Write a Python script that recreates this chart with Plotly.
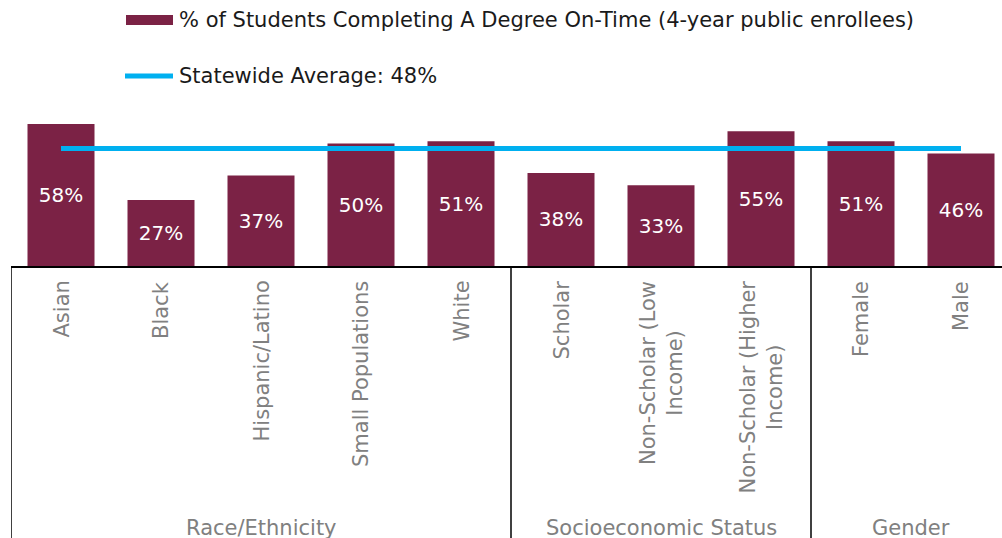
import plotly.graph_objects as go

# --- data ---------------------------------------------------------------
categories = ["Asian", "Black", "Hispanic/Latino", "Small Populations", "White",
              "Scholar", "Non-Scholar (Low Income)", "Non-Scholar (Higher Income)",
              "Female", "Male"]
tick_labels = ["Asian", "Black", "Hispanic/Latino", "Small Populations", "White",
               "Scholar", "Non-Scholar (Low<br>Income)", "Non-Scholar (Higher<br>Income)",
               "Female", "Male"]
completion_pct = [58, 27, 37, 50, 51, 38, 33, 55, 51, 46]
statewide_avg = 48
groups = ["Race/Ethnicity", "Socioeconomic Status", "Gender"]
group_sizes = [5, 3, 2]

bar_name = "% of Students Completing A Degree On-Time (4-year public enrollees)"
line_name = f"Statewide Average: {statewide_avg}%"

# --- styling ------------------------------------------------------------
MAROON = "#7B2245"
BLUE = "#00B0F0"
GREY = "#808080"
FONT = "DejaVu Sans"
FS = 21

W, H = 1002, 538
ML, MR, MT, MB = 11, 0, 100, 272
PW, PH = W - ML - MR, H - MT - MB


def px_x(px):
    return (px - ML) / PW


def px_y(py):
    return (H - MB - py) / PH


fig = go.Figure()
fig.add_trace(go.Bar(
    x=categories, y=completion_pct,
    marker=dict(color=MAROON, line=dict(width=0)),
    text=[f"{v}%" for v in completion_pct],
    textposition="inside", insidetextanchor="middle",
    textfont=dict(color="white", size=20, family=FONT),
    showlegend=False,
))
fig.add_trace(go.Scatter(
    x=categories, y=[statewide_avg] * len(categories),
    mode="lines", line=dict(color=BLUE, width=5),
    showlegend=False,
))

# category labels (rotated, centred lines)
annotations = []
for cat, lab in zip(categories, tick_labels):
    annotations.append(dict(
        x=cat, xref="x", y=px_y(279), yref="paper",
        text=lab, textangle=-90, showarrow=False,
        xanchor="center", yanchor="top", align="center",
        font=dict(size=FS, color=GREY, family=FONT),
    ))

# group labels and separators
shapes = []
start = 0
for g, n in zip(groups, group_sizes):
    mid = start + (n - 1) / 2
    annotations.append(dict(
        x=mid, xref="x", y=px_y(528), yref="paper",
        text=g, showarrow=False, xanchor="center", yanchor="middle",
        font=dict(size=FS, color=GREY, family=FONT),
    ))
    shapes.append(dict(
        type="line", xref="x", yref="paper",
        x0=start - 0.5, x1=start - 0.5, y0=0, y1=px_y(H + 5),
        line=dict(color="black", width=1.5),
    ))
    start += n

# legend
shapes.append(dict(type="rect", xref="paper", yref="paper",
                   x0=px_x(126), x1=px_x(173), y0=px_y(25), y1=px_y(15),
                   fillcolor=MAROON, line=dict(width=0)))
shapes.append(dict(type="line", xref="paper", yref="paper",
                   x0=px_x(125), x1=px_x(173), y0=px_y(76), y1=px_y(76),
                   line=dict(color=BLUE, width=5)))
annotations.append(dict(x=px_x(177), y=px_y(20), xref="paper", yref="paper",
                        text=bar_name, showarrow=False, xanchor="left", yanchor="middle",
                        font=dict(size=FS, color="#1a1a1a", family=FONT)))
annotations.append(dict(x=px_x(177), y=px_y(76), xref="paper", yref="paper",
                        text=line_name, showarrow=False, xanchor="left", yanchor="middle",
                        font=dict(size=FS, color="#1a1a1a", family=FONT)))

fig.update_layout(
    width=W, height=H,
    margin=dict(l=ML, r=MR, t=MT, b=MB, pad=0),
    plot_bgcolor="white", paper_bgcolor="white",
    bargap=0.33,
    annotations=annotations, shapes=shapes,
    xaxis=dict(range=[-0.5, -0.5 + PW / 100], showticklabels=False, ticks="",
               showgrid=False, zeroline=False,
               showline=True, linecolor="black", linewidth=1.5),
    yaxis=dict(range=[0, PH / 2.448], visible=False, showgrid=False),
)

fig.write_html("out.html")
